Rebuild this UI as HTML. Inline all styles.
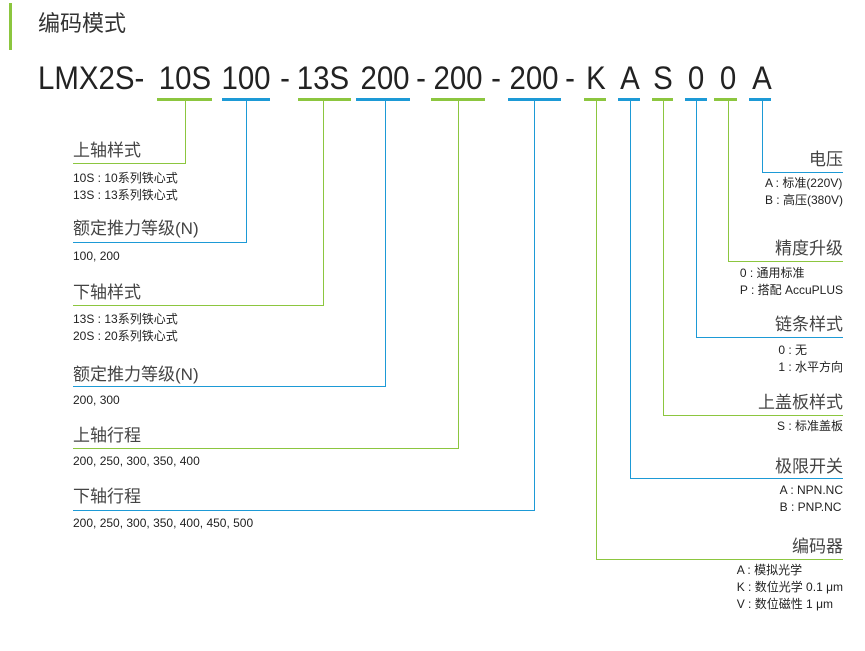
<!DOCTYPE html>
<html><head><meta charset="utf-8"><style>
body{margin:0;width:865px;height:651px;background:#fff;position:relative;overflow:hidden;font-family:"Liberation Sans","Noto Sans CJK SC",sans-serif;color:#333}
.t{position:absolute;white-space:nowrap;line-height:1}
.c{position:absolute;white-space:nowrap;line-height:1;font-size:32px;transform:translateX(-50%) scaleX(0.92);top:62px;color:#222}
.h{font-size:17px;line-height:1;color:#444}
.s{font-size:12px;line-height:17px;color:#222}
.r{position:absolute;white-space:nowrap;right:22px;text-align:left}
.g{position:absolute;background:#8cc63f}
.b{position:absolute;background:#1d9ad6}
</style></head><body>
<div class="g" style="left:9px;top:3px;width:3px;height:47px"></div>
<div class="t" style="left:38px;top:13px;font-size:22px;color:#333">编码模式</div>

<div class="t" style="left:38px;top:62px;font-size:32px;color:#222;transform:scaleX(0.92);transform-origin:left">LMX2S-</div>
<div class="c" style="left:185px">10S</div>
<div class="c" style="left:246px">100</div>
<div class="c" style="left:285px">-</div>
<div class="c" style="left:323px">13S</div>
<div class="c" style="left:385px">200</div>
<div class="c" style="left:421px">-</div>
<div class="c" style="left:458px">200</div>
<div class="c" style="left:496px">-</div>
<div class="c" style="left:534px">200</div>
<div class="c" style="left:570px">-</div>
<div class="c" style="left:596px">K</div>
<div class="c" style="left:630px">A</div>
<div class="c" style="left:663px">S</div>
<div class="c" style="left:696px">0</div>
<div class="c" style="left:728px">0</div>
<div class="c" style="left:762px">A</div>

<div class="g" style="left:157px;top:98px;width:55px;height:3px"></div>
<div class="b" style="left:222px;top:98px;width:48px;height:3px"></div>
<div class="g" style="left:298px;top:98px;width:53px;height:3px"></div>
<div class="b" style="left:356px;top:98px;width:54px;height:3px"></div>
<div class="g" style="left:431px;top:98px;width:54px;height:3px"></div>
<div class="b" style="left:508px;top:98px;width:53px;height:3px"></div>
<div class="g" style="left:584px;top:98px;width:22px;height:3px"></div>
<div class="b" style="left:618px;top:98px;width:22px;height:3px"></div>
<div class="g" style="left:652px;top:98px;width:21px;height:3px"></div>
<div class="b" style="left:685px;top:98px;width:22px;height:3px"></div>
<div class="g" style="left:714px;top:98px;width:23px;height:3px"></div>
<div class="b" style="left:749px;top:98px;width:22px;height:3px"></div>

<div class="g" style="left:185px;top:101px;width:1px;height:62px"></div>
<div class="g" style="left:73px;top:163px;width:113px;height:1px"></div>
<div class="b" style="left:246px;top:101px;width:1px;height:141px"></div>
<div class="b" style="left:73px;top:242px;width:174px;height:1px"></div>
<div class="g" style="left:323px;top:101px;width:1px;height:204px"></div>
<div class="g" style="left:73px;top:305px;width:251px;height:1px"></div>
<div class="b" style="left:385px;top:101px;width:1px;height:285px"></div>
<div class="b" style="left:73px;top:386px;width:313px;height:1px"></div>
<div class="g" style="left:458px;top:101px;width:1px;height:347px"></div>
<div class="g" style="left:73px;top:448px;width:386px;height:1px"></div>
<div class="b" style="left:534px;top:101px;width:1px;height:409px"></div>
<div class="b" style="left:73px;top:510px;width:462px;height:1px"></div>

<div class="t h" style="left:73px;top:142px">上轴样式</div>
<div class="t s" style="left:73px;top:170px">10S : 10系列铁心式<br>13S : 13系列铁心式</div>
<div class="t h" style="left:73px;top:220px">额定推力等级(N)</div>
<div class="t s" style="left:73px;top:248px">100, 200</div>
<div class="t h" style="left:73px;top:284px">下轴样式</div>
<div class="t s" style="left:73px;top:311px">13S : 13系列铁心式<br>20S : 20系列铁心式</div>
<div class="t h" style="left:73px;top:366px">额定推力等级(N)</div>
<div class="t s" style="left:73px;top:392px">200, 300</div>
<div class="t h" style="left:73px;top:427px">上轴行程</div>
<div class="t s" style="left:73px;top:453px">200, 250, 300, 350, 400</div>
<div class="t h" style="left:73px;top:488px">下轴行程</div>
<div class="t s" style="left:73px;top:515px">200, 250, 300, 350, 400, 450, 500</div>

<div class="b" style="left:762px;top:101px;width:1px;height:71px"></div>
<div class="b" style="left:762px;top:172px;width:81px;height:1px"></div>
<div class="g" style="left:728px;top:101px;width:1px;height:160px"></div>
<div class="g" style="left:728px;top:261px;width:115px;height:1px"></div>
<div class="b" style="left:696px;top:101px;width:1px;height:236px"></div>
<div class="b" style="left:696px;top:337px;width:147px;height:1px"></div>
<div class="g" style="left:663px;top:101px;width:1px;height:314px"></div>
<div class="g" style="left:663px;top:415px;width:180px;height:1px"></div>
<div class="b" style="left:630px;top:101px;width:1px;height:377px"></div>
<div class="b" style="left:630px;top:478px;width:213px;height:1px"></div>
<div class="g" style="left:596px;top:101px;width:1px;height:458px"></div>
<div class="g" style="left:596px;top:559px;width:247px;height:1px"></div>

<div class="r h" style="top:151px">电压</div>
<div class="r s" style="top:175px">A : 标准(220V)<br>B : 高压(380V)</div>
<div class="r h" style="top:240px">精度升级</div>
<div class="r s" style="top:265px">0 : 通用标准<br>P : 搭配 AccuPLUS</div>
<div class="r h" style="top:316px">链条样式</div>
<div class="r s" style="top:342px">0 : 无<br>1 : 水平方向</div>
<div class="r h" style="top:394px">上盖板样式</div>
<div class="r s" style="top:418px">S : 标准盖板</div>
<div class="r h" style="top:458px">极限开关</div>
<div class="r s" style="top:482px">A : NPN.NC<br>B : PNP.NC</div>
<div class="r h" style="top:538px">编码器</div>
<div class="r s" style="top:562px">A : 模拟光学<br>K : 数位光学 0.1 μm<br>V : 数位磁性 1 μm</div>
</body></html>
